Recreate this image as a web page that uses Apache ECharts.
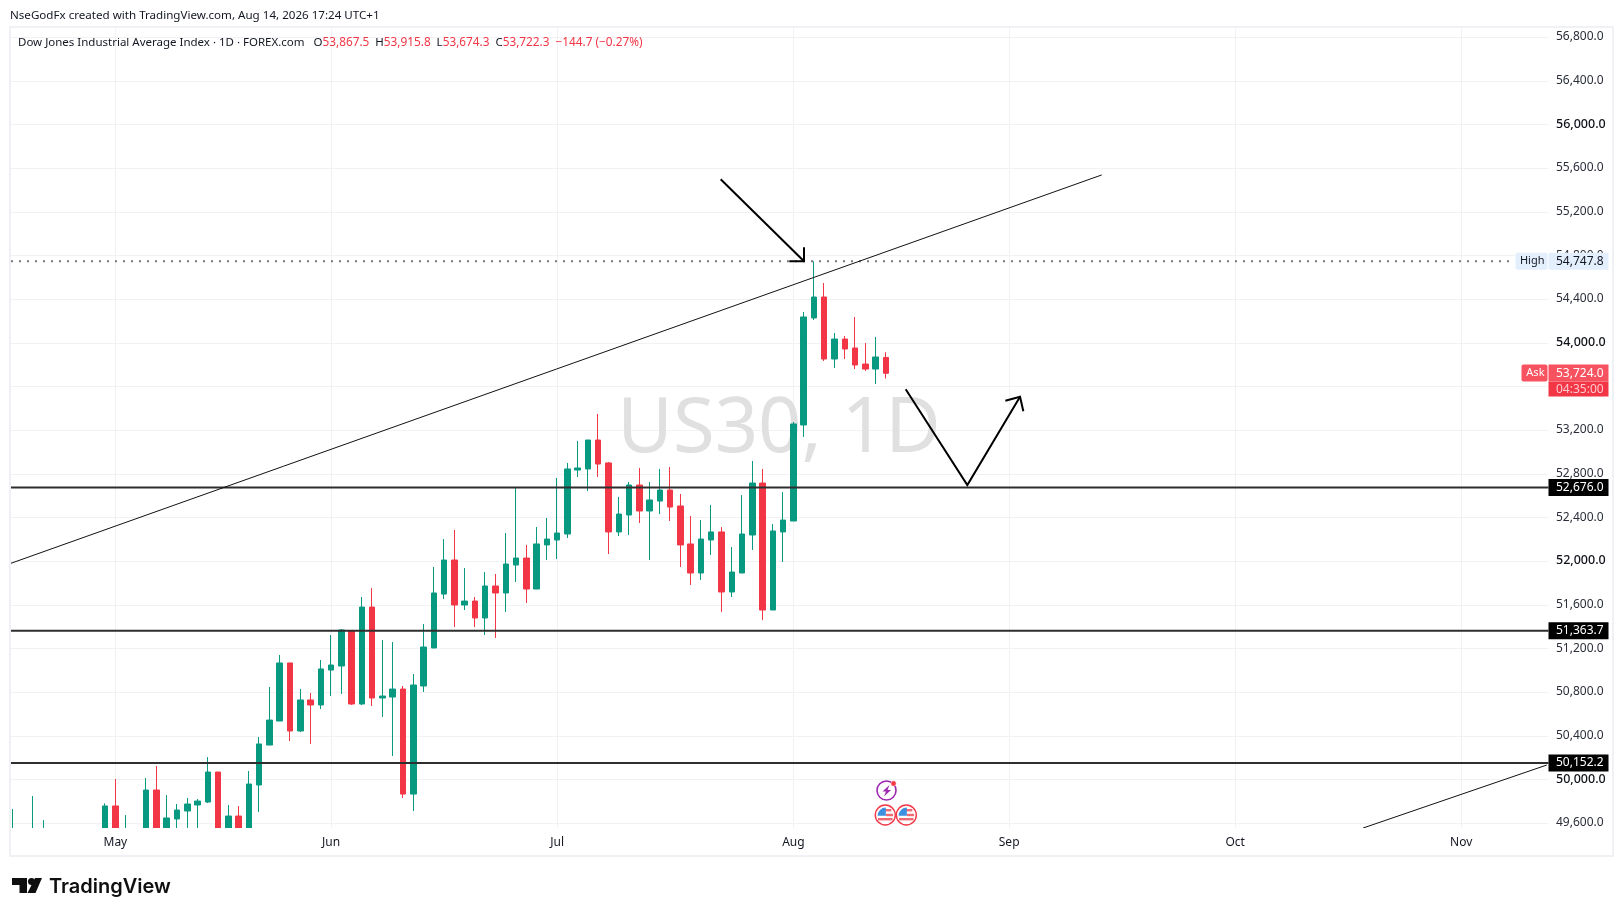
<!DOCTYPE html>
<html><head><meta charset="utf-8">
<style>html,body{margin:0;padding:0;background:#fff}#c{width:1623px;height:916px}</style>
<script src="https://cdn.jsdelivr.net/npm/echarts@6/dist/echarts.min.js"></script>
</head><body><div id="c"></div>
<script>
// Session dates
const categories = [
'Apr 17','Apr 20','Apr 21','Apr 22','Apr 23','Apr 24','Apr 27','Apr 28','Apr 29','Apr 30',
'May 1','May 4','May 5','May 6','May 7','May 8','May 11','May 12','May 13','May 14','May 15','May 18','May 19','May 20','May 21','May 22','May 25','May 26','May 27','May 28','May 29',
'Jun 1','Jun 2','Jun 3','Jun 4','Jun 5','Jun 8','Jun 9','Jun 10','Jun 11','Jun 12','Jun 15','Jun 16','Jun 17','Jun 18','Jun 19','Jun 22','Jun 23','Jun 24','Jun 25','Jun 26','Jun 29','Jun 30',
'Jul 1','Jul 2','Jul 3','Jul 6','Jul 7','Jul 8','Jul 9','Jul 10','Jul 13','Jul 14','Jul 15','Jul 16','Jul 17','Jul 20','Jul 21','Jul 22','Jul 23','Jul 24','Jul 27','Jul 28','Jul 29','Jul 30','Jul 31',
'Aug 3','Aug 4','Aug 5','Aug 6','Aug 7','Aug 10','Aug 11','Aug 12','Aug 13','Aug 14','Aug 17','Aug 18','Aug 19','Aug 20','Aug 21','Aug 24','Aug 25','Aug 26','Aug 27','Aug 28','Aug 31',
'Sep 1','Sep 2','Sep 3','Sep 4','Sep 7','Sep 8','Sep 9','Sep 10','Sep 11','Sep 14','Sep 15','Sep 16','Sep 17','Sep 18','Sep 21','Sep 22','Sep 23','Sep 24','Sep 25','Sep 28','Sep 29','Sep 30',
'Oct 1','Oct 2','Oct 5','Oct 6','Oct 7','Oct 8','Oct 9','Oct 12','Oct 13','Oct 14','Oct 15','Oct 16','Oct 19','Oct 20','Oct 21','Oct 22','Oct 23','Oct 26','Oct 27','Oct 28','Oct 29','Oct 30',
'Nov 2','Nov 3','Nov 4','Nov 5','Nov 6','Nov 9','Nov 10','Nov 11','Nov 12'];
const monthTicks = {'May 1':'May','Jun 1':'Jun','Jul 1':'Jul','Aug 3':'Aug','Sep 1':'Sep','Oct 1':'Oct','Nov 2':'Nov'};
const priceTicks = [49600,50000,50400,50800,51200,51600,52000,52400,52800,53200,53600,54000,54400,54800,55200,55600,56000,56400,56800];
const hiddenPriceTicks = [53600];

// open, close, low, high. Parts of a bar that fall under the pane's floor cannot be read and are held just below it.
const ohlc = [
[49540,49540,49540,49731],[49500,49500,49500,49500],[49540,49540,49540,49850],[49540,49540,49540,49630],
[49500,49500,49500,49500],[49500,49500,49500,49500],[49500,49500,49500,49500],[49500,49500,49500,49500],[49500,49500,49500,49500],
[49540,49759,49540,49783],[49759,49540,49540,50006],[49540,49540,49540,49676],[49500,49500,49500,49500],
[49540,49905,49540,50015],[49905,49540,49540,50125],[49540,49649,49540,49859],[49640,49722,49540,49777],[49713,49777,49540,49832],[49768,49804,49540,49823],
[49795,50070,49786,50207],[50070,49540,49540,50070],[49540,49667,49540,49768],[49667,49540,49540,49758],[49540,49960,49540,50079],
[49951,50327,49704,50391],[50317,50546,50317,50849],[50537,51069,50537,51142],[51069,50446,50354,51069],[50446,50730,50436,50830],[50730,50684,50327,50794],
[50684,51014,50647,51096],[51004,51050,50766,51325],[51041,51371,50785,51380],[51361,50693,50684,51361],[50693,51581,50684,51673],[51581,50748,50675,51755],
[50748,50766,50574,51279],[50757,50830,50217,51261],[50830,49868,49832,50858],[49868,50867,49713,50968],[50858,51215,50803,51426],[51206,51710,51206,51948],
[51700,52012,51655,52204],[52012,51600,51398,52287],[51600,51636,51554,51939],[51636,51481,51398,51673],[51481,51774,51325,51902],[51774,51710,51298,51884],
[51710,51975,51536,52259],[51966,52030,51811,52681],[52030,51746,51618,52150],[51746,52159,51746,52314],[52150,52204,52012,52397],[52195,52259,52021,52763],
[52250,52846,52214,52901],[52836,52855,52772,53102],[52846,53111,52644,53111],[53111,52891,52772,53350],[52901,52269,52067,52910],[52269,52433,52232,52589],
[52424,52699,52241,52727],[52699,52461,52351,52855],[52461,52562,52012,52727],[52552,52653,52433,52846],[52653,52497,52369,52864],[52507,52150,51948,52617],
[52159,51893,51783,52415],[51893,52204,51829,52378],[52195,52269,52058,52516],[52269,51719,51536,52314],[51719,51902,51673,52131],[51893,52250,51893,52607],
[52241,52717,52104,52919],[52717,51554,51462,52846],[51554,52278,51554,52342],[52269,52378,51994,52635],[52369,53258,52369,53276],[53249,54238,53139,54284],
[54229,54421,54210,54747.8],[54421,53853,53835,54549],[53853,54036,53771,54091],[54036,53945,53853,54064],[53954,53798,53761,54238],[53807,53761,53743,54000],
[53761,53871.5,53624,54055],[53867.5,53722.3,53674.3,53915.8]];

const supportLevels = [52676.0,51363.7,50152.2];
const highLevel = 54747.8;
const askPrice = 53724.0;
const countdown = '04:35:00';
// drawings as [bar index, price]
const trendMain = [[-0.16,51982],[106.01,55539]];
const trendLower = [[131.45,49557],[149.33,50134]];
const arrowDown = [[68.92,55499],[77.03,54748]];
const arrowDownHeadA = [[77.03,54876],[77.03,54748],[75.60,54748]];
const arrowVee = [[86.93,53576],[92.93,52699],[98.06,53508]];
const arrowVeeHead = [[96.63,53471],[98.06,53508],[98.38,53374]];
const highDots = [[-0.16,highLevel],[146.2,highLevel]];
const headerTop = 'NseGodFx created with TradingView.com, Aug 14, 2026 17:24 UTC+1';
const legendName = 'Dow Jones Industrial Average Index · 1D · FOREX.com';
const legendOHLC = [['O','53,867.5'],['H','53,915.8'],['L','53,674.3'],['C','53,722.3']];
const legendChange = '−144.7 (−0.27%)';

const FONT = '"Noto Sans", sans-serif';
const UP='#089981', DOWN='#F23645', GRID='#f1f2f4', TXT='#131722', FRAME='#f0f1f4';
const fmt = v => v.toLocaleString('en-US',{minimumFractionDigits:1,maximumFractionDigits:1});
const chart = echarts.init(document.getElementById('c'),null,{renderer:'canvas'});

function drawing(data,width,color){
  return {type:'line',xAxisIndex:1,yAxisIndex:0,data,symbol:'none',silent:true,z:6,clip:true,
    lineStyle:{width,color,cap:'butt',join:'miter'},animation:false};
}
function badge(x,price,text,bg,color,side,opt){
  opt=opt||{};
  return {type:'scatter',xAxisIndex:1,yAxisIndex:0,data:[[x,price]],symbolSize:0,silent:true,clip:false,z:opt.z||8,
    itemStyle:{opacity:1},
    label:{show:true,opacity:1,position:side,distance:0,formatter:text,backgroundColor:bg,color,fontFamily:FONT,fontSize:opt.size||12,
      fontWeight:opt.weight||400,width:opt.width,height:opt.height||17,lineHeight:opt.height||17,padding:opt.padding||[0,0,0,7.5],
      offset:opt.offset||[0,0],borderRadius:opt.radius||0}};
}
const levelSeries = supportLevels.map(l=>drawing([[-0.16,l],[149.5,l]],2,'#2e2e2e'));
const levelBadges = supportLevels.map(l=>badge(149.5,l,fmt(l),'#000','#fff','right',{width:52.5}));

const g=[];
// watermark
g.push({type:'text',z:1,silent:true,style:{x:779,y:430,text:'US30, 1D',fill:'#e0e0e0',font:'400 76px '+FONT,textAlign:'center',textVerticalAlign:'middle'}});
// pane frame
g.push({type:'rect',z:50,silent:true,shape:{x:0,y:27,width:10,height:830},style:{fill:'#fff'}});
g.push({type:'rect',z:50,silent:true,shape:{x:10,y:828,width:1538,height:3},style:{fill:'#fff'}});
g.push({type:'rect',z:51,silent:true,shape:{x:10,y:27,width:1603,height:829},style:{fill:'none',stroke:FRAME,lineWidth:2}});
// header
g.push({type:'text',z:60,silent:true,style:{x:10,y:16,text:headerTop,fill:TXT,font:'400 11.6px '+FONT,textVerticalAlign:'middle'}});
let rich='{n|'+legendName+'}  ';
legendOHLC.forEach(p=>{rich+=' {n|'+p[0]+'}{r|'+p[1]+'} ';});
rich+=' {r|'+legendChange+'}';
g.push({type:'text',z:60,silent:true,style:{x:18,y:43,text:rich,textVerticalAlign:'middle',font:'400 11.5px '+FONT,
  rich:{n:{fill:TXT,font:'400 11.5px '+FONT},r:{fill:DOWN,font:'400 11.8px '+FONT}}}});
// logo
g.push({type:'polygon',z:60,silent:true,shape:{points:[[12,878],[27,878],[27,893],[19.5,893],[19.5,885],[12,885]]},style:{fill:'#0f0f0f'}});
g.push({type:'circle',z:60,silent:true,shape:{cx:31.5,cy:881.5,r:3.5},style:{fill:'#0f0f0f'}});
g.push({type:'polygon',z:60,silent:true,shape:{points:[[35,878],[42,878],[35.5,893],[27.5,893]]},style:{fill:'#0f0f0f'}});
g.push({type:'text',z:60,silent:true,style:{x:49,y:886.5,text:'TradingView',fill:'#0f0f0f',font:'600 20px Inter, '+FONT,textVerticalAlign:'middle'}});
// event icons
g.push({type:'circle',z:20,silent:true,shape:{cx:886.5,cy:790.5,r:9.5},style:{fill:'#fff',stroke:'#9c27b0',lineWidth:1.6}});
g.push({type:'polygon',z:21,silent:true,shape:{points:[[889.5,785],[882.5,791.5],[886,791.5],[884,796.5],[891,790],[887.5,790]]},style:{fill:'#9c27b0'}});
g.push({type:'circle',z:22,silent:true,shape:{cx:893.5,cy:783.5,r:2.7},style:{fill:DOWN,stroke:'#fff',lineWidth:.5}});
[885.3,906.3].forEach(cx=>{
  const cy=815;
  g.push({type:'circle',z:20,silent:true,shape:{cx,cy,r:10},style:{fill:'#fff',stroke:DOWN,lineWidth:1.4}});
  g.push({type:'rect',z:21,silent:true,shape:{x:cx-3,y:cy-6,width:9,height:2.4},style:{fill:'#ef6a72'}});
  g.push({type:'rect',z:21,silent:true,shape:{x:cx+.5,y:cy-1.2,width:7.3,height:2.4},style:{fill:'#ef6a72'}});
  g.push({type:'rect',z:21,silent:true,shape:{x:cx-7.3,y:cy+3,width:14.6,height:2.4},style:{fill:'#ef6a72'}});
  g.push({type:'sector',z:22,silent:true,shape:{cx:cx+.5,cy:cy+.8,r:8.2,startAngle:Math.PI,endAngle:Math.PI*1.5},style:{fill:'#3d8fe0'}});
});

chart.setOption({
  animation:false,
  backgroundColor:'#fff',
  grid:{left:7.5,top:28,width:1541,height:799.7,containLabel:false},
  xAxis:[{
    type:'category',data:categories,boundaryGap:true,
    axisLine:{show:false},axisTick:{show:false,alignWithLabel:true},
    axisLabel:{color:TXT,fontFamily:FONT,fontSize:12,margin:9,hideOverlap:false,
      interval:(i,v)=>monthTicks[v]!==undefined,formatter:v=>monthTicks[v]||''},
    splitLine:{show:true,alignWithLabel:true,lineStyle:{color:GRID,width:1},interval:(i,v)=>monthTicks[v]!==undefined}
  },{
    type:'value',min:-0.5,max:149.5,show:false,splitLine:{show:false}
  }],
  yAxis:[{
    type:'value',position:'right',min:49560,max:56885,scale:true,
    axisLine:{show:false},
    axisTick:{show:false,customValues:priceTicks},
    splitLine:{show:true,lineStyle:{color:GRID,width:1}},
    axisLabel:{show:true,margin:7.5,customValues:priceTicks.filter(v=>!hiddenPriceTicks.includes(v)),
      formatter:v=>(v%1000===0?'{b|'+fmt(v)+'}':'{n|'+fmt(v)+'}'),
      rich:{n:{color:'#2a2e39',fontFamily:FONT,fontSize:12,padding:[0,0,1,0]},b:{color:'#0f1218',fontFamily:FONT,fontSize:12.5,fontWeight:500,padding:[0,0,1,0]}}}
  }],
  graphic:{elements:g},
  series:[
    {type:'candlestick',xAxisIndex:0,yAxisIndex:0,data:ohlc,barWidth:6,z:4,silent:true,clip:true,
     itemStyle:{color:UP,color0:DOWN,borderColor:UP,borderColor0:DOWN,borderWidth:1}},
    ...levelSeries,
    drawing(trendMain,1,'#111'),
    drawing(trendLower,1,'#111'),
    drawing(arrowDown,2,'#000'),
    drawing(arrowDownHeadA,2,'#000'),
    drawing(arrowVee,2,'#000'),
    drawing(arrowVeeHead,2,'#000'),
    Object.assign(drawing(highDots,2,'#787878'),{lineStyle:{width:2,color:'#787878',type:[2,6]},z:3}),
    ...levelBadges,
    badge(149.5,highLevel,fmt(highLevel),'#e3effd',TXT,'right',{width:52.5}),
    badge(149.5,highLevel,'High','#e3effd',TXT,'left',{width:25,size:11,padding:[0,3,0,4],offset:[-1,0],radius:2}),
    badge(149.5,askPrice,countdown,'#f23645','#ffc9cf','right',{width:52.5,height:15,offset:[0,16]}),
    badge(149.5,askPrice,fmt(askPrice),'#f7525f','#fff','right',{width:52.5}),
    badge(149.5,askPrice,'Ask','#f7525f','#fff','left',{width:19,size:11,padding:[0,3,0,4],offset:[-1,0],radius:2})
  ]
});
</script></body></html>
